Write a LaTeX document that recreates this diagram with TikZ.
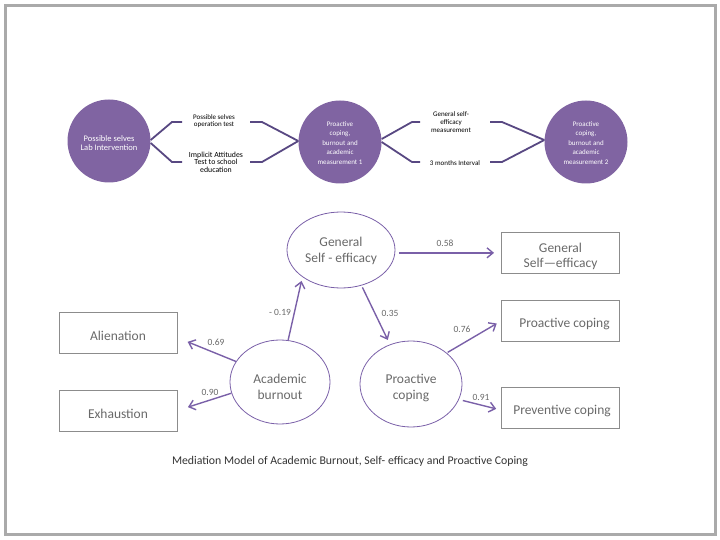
\documentclass[tikz,border=0pt]{standalone}
\usepackage{fontspec}
\setmainfont{Carlito}
\usetikzlibrary{shapes.geometric,arrows.meta,calc}
\definecolor{vio}{RGB}{128,100,162}
\definecolor{darkvio}{RGB}{88,72,130}
\definecolor{arrvio}{RGB}{122,96,168}
\definecolor{txtgray}{RGB}{105,105,105}
\definecolor{boxgray}{RGB}{140,140,140}
\definecolor{framegray}{RGB}{170,170,170}
\tikzset{
  circ/.style={circle,fill=vio,minimum size=83pt,inner sep=0pt,align=center,
    text=white,font=\fontsize{7}{9.4}\selectfont},
  brk/.style={draw=darkvio,line width=1.8pt},
  brlabel/.style={align=center,font=\fontsize{7}{7.2}\selectfont,text=black},
  ell/.style={ellipse,draw=arrvio,line width=0.8pt,inner sep=0pt,align=center,
    text=txtgray,font=\fontsize{13.5}{16}\selectfont},
  obox/.style={draw=boxgray,line width=0.9pt,minimum width=118pt,minimum height=41pt,
    inner sep=0pt,align=center,text=txtgray,font=\fontsize{13.5}{15.5}\selectfont},
  arr/.style={draw=arrvio,line width=1.4pt,-{Straight Barb[length=6pt,width=10pt,line width=1.4pt]}},
  lbl/.style={text=txtgray,font=\fontsize{9.5}{11}\selectfont,inner sep=0pt},
}
\newcommand{\dn}[2]{\raisebox{-#1}[\dimexpr\height+#1\relax][\dimexpr\depth+#1\relax]{\begin{tabular}{@{}c@{}}#2\end{tabular}}}
\begin{document}
\begin{tikzpicture}[x=1pt,y=-1pt]
\useasboundingbox (0,0) rectangle (720,540);
\draw[framegray,line width=3pt] (5.5,5.5) rectangle (715.5,534.5);

% top row
\node[circ,font=\fontsize{8.5}{9.5}\selectfont] (c1) at (109,141) {\dn{3pt}{Possible selves\\Lab Intervention}};
\node[circ] (c2) at (340,142) {\dn{1.5pt}{Proactive\\coping,\\burnout and\\academic\\measurement 1}};
\node[circ] (c3) at (586,142) {\dn{1.5pt}{Proactive\\coping,\\burnout and\\academic\\measurement 2}};

\node[brlabel] (t1) at (214,121.5) {Possible selves\\operation test};
\node[brlabel,font=\fontsize{7.8}{7.6}\selectfont] (t2) at (216,162) {Implicit Attitudes\\Test to school\\education};
\node[brlabel,font=\fontsize{7}{7.6}\selectfont] (t3) at (451,122) {General self-\\efficacy\\measurement};
\node[brlabel] (t4) at (455,163) {3 months Interval};

\draw[brk] (c1.east |- 0,140) -- (172,122) -- (182,122);
\draw[brk] (c1.east |- 0,143) -- (172,162) -- (182,162);
\draw[brk] (250,122) -- (262,122) -- (c2.west |- 0,141);
\draw[brk] (250,162) -- (262,162) -- (c2.west |- 0,141);
\draw[brk] (c2.east |- 0,139) -- (412,122) -- (420,122);
\draw[brk] (c2.east |- 0,142) -- (412,162) -- (420,162);
\draw[brk] (490,122) -- (502,122) -- (c3.west |- 0,140);
\draw[brk] (490,162) -- (502,162) -- (c3.west |- 0,140);

% bottom model
\node[ell,minimum width=108pt,minimum height=76pt] (gse) at (341,250) {\dn{1pt}{General\\Self - efficacy}};
\node[ell,minimum width=100pt,minimum height=84pt] (burn) at (280,382) {\dn{6pt}{Academic\\burnout}};
\node[ell,minimum width=102pt,minimum height=86pt] (pc) at (411,384) {\dn{4.5pt}{Proactive\\coping}};

\node[obox] (alien) at (118,332.5) {\dn{5pt}{Alienation}};
\node[obox] (exh) at (118,410.5) {\dn{5pt}{Exhaustion}};
\node[obox] (gsebox) at (560.5,253) {\dn{4pt}{General\\Self—efficacy}};
\node[obox] (pcbox) at (560.5,321) {\dn{3pt}{\hspace*{8pt}Proactive coping}};
\node[obox] (prevbox) at (560.5,408) {\dn{3pt}{\hspace*{3pt}Preventive coping}};

\draw[arr,shorten >=4pt] (burn.79) -- (gse.215);
\draw[arr,shorten >=11pt] (burn.155) -- (alien.-5);
\draw[arr,shorten >=11pt] (burn.193) -- (exh.east);
\draw[arr,shorten <=4pt,shorten >=7pt] (gse.-3) -- (gse.-3 -| gsebox.west);
\draw[arr,shorten <=2pt,shorten >=5pt] (gse.-60) -- (pc.118);
\draw[arr,shorten <=1pt,shorten >=5pt] (pc.41) -- (pcbox.west);
\draw[arr,shorten <=4pt,shorten >=5pt] (pc.-18) -- (prevbox.182);

\node[lbl] (l1) at (280,312) {- 0.19};
\node[lbl] (l2) at (216,342) {0.69};
\node[lbl] (l3) at (210,392) {0.90};
\node[lbl] (l4) at (445,243) {0.58};
\node[lbl] (l5) at (390,313) {0.35};
\node[lbl] (l6) at (462,329) {0.76};
\node[lbl] (l7) at (481,397) {0.91};

\node[text=black!80,font=\fontsize{11.8}{13}\selectfont] (cap) at (350,461)
  {Mediation Model of Academic Burnout, Self- efficacy and Proactive Coping};
\end{tikzpicture}
\end{document}
